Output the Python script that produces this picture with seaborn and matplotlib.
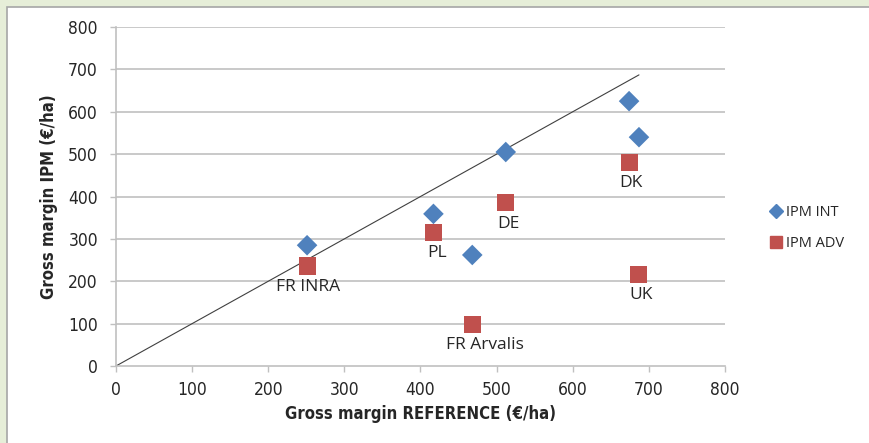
import pandas as pd
import matplotlib.pyplot as plt
import matplotlib.patches as mpatches
import seaborn as sns

# DATA
countries = ['FR INRA', 'PL', 'FR Arvalis', 'DE', 'DK', 'UK']
reference = [251, 417, 468, 512, 674, 687]
ipm_int = [285, 359, 262, 505, 625, 540]
ipm_adv = [236, 316, 99, 385, 481, 217]
label_dx = [1, 4, 13, 3, 2, 2]  # small horizontal nudges of the country labels (px)
diag_end = 687
ticks = [0, 100, 200, 300, 400, 500, 600, 700, 800]

df = pd.DataFrame({
    'country': countries * 2,
    'reference': reference * 2,
    'ipm': ipm_int + ipm_adv,
    'series': ['IPM INT'] * len(countries) + ['IPM ADV'] * len(countries),
})

sns.set_style('white')
plt.rcParams['font.family'] = ['DejaVu Sans']
plt.rcParams['font.stretch'] = 'condensed'

fig = plt.figure(figsize=(8.7, 4.43), dpi=100, facecolor='#E6EED8')
# white inner panel like the excel chart area
fig.patches.append(mpatches.Rectangle((7 / 870, -0.05), 1.05, (443 - 7) / 443 + 0.05,
                                      transform=fig.transFigure, facecolor='white',
                                      edgecolor='#A6A6A6', linewidth=1.2, zorder=-10))
ax = fig.add_axes([116 / 870, 77 / 443, 609 / 870, 339 / 443])
ax.set_facecolor('white')

grid_col = '#C0C0C0'
for t in ticks[1:]:
    ax.axhline(t, color=grid_col, linewidth=1.2, zorder=1)

ax.plot([0, diag_end], [0, diag_end], color='#404040', linewidth=0.8, zorder=2)

sns.scatterplot(data=df, x='reference', y='ipm', hue='series', style='series',
                palette={'IPM INT': '#4F81BD', 'IPM ADV': '#C0504D'},
                markers={'IPM INT': 'D', 'IPM ADV': 's'},
                size='series', sizes={'IPM INT': 110, 'IPM ADV': 150},
                linewidth=0, ax=ax, zorder=3, legend=False)

for i, name in enumerate(countries):
    ax.annotate(name, (reference[i], ipm_adv[i]), xytext=(label_dx[i], -21),
                textcoords='offset pixels', ha='center', va='center',
                fontsize=12.5, family=['Open Sans', 'DejaVu Sans'],
                fontstretch='normal', color='#262626')

ax.set_xlim(0, 800)
ax.set_ylim(0, 800)
ax.set_xticks(ticks)
ax.set_yticks(ticks)
ax.tick_params(axis='both', which='both', length=4, width=1.0, color=grid_col,
               labelsize=12.5, labelcolor='#262626', direction='out')
ax.tick_params(axis='x', bottom=True, pad=7)
ax.tick_params(axis='y', left=True, pad=9)
for side in ['top', 'right']:
    ax.spines[side].set_visible(False)
for side in ['left', 'bottom']:
    ax.spines[side].set_color(grid_col)
    ax.spines[side].set_linewidth(1.2)

ax.set_xlabel('Gross margin REFERENCE (€/ha)', fontsize=12, fontweight='bold',
              color='#262626', labelpad=4)
ax.set_ylabel('Gross margin IPM (€/ha)', fontsize=12, fontweight='bold',
              color='#262626', labelpad=7)

# legend on the right
handles = [plt.Line2D([], [], marker='D', linestyle='', color='#4F81BD', markersize=7),
           plt.Line2D([], [], marker='s', linestyle='', color='#C0504D', markersize=9)]
fig.legend(handles, ['IPM INT', 'IPM ADV'], loc='center left',
           bbox_to_anchor=(754 / 870, (443 - 228) / 443), frameon=False,
           handletextpad=0.1, labelspacing=1.1, handlelength=1.2,
           prop={'family': ['Open Sans', 'DejaVu Sans'], 'size': 10.5, 'stretch': 'normal'})

fig.savefig('out.png', dpi=100, facecolor=fig.get_facecolor())
